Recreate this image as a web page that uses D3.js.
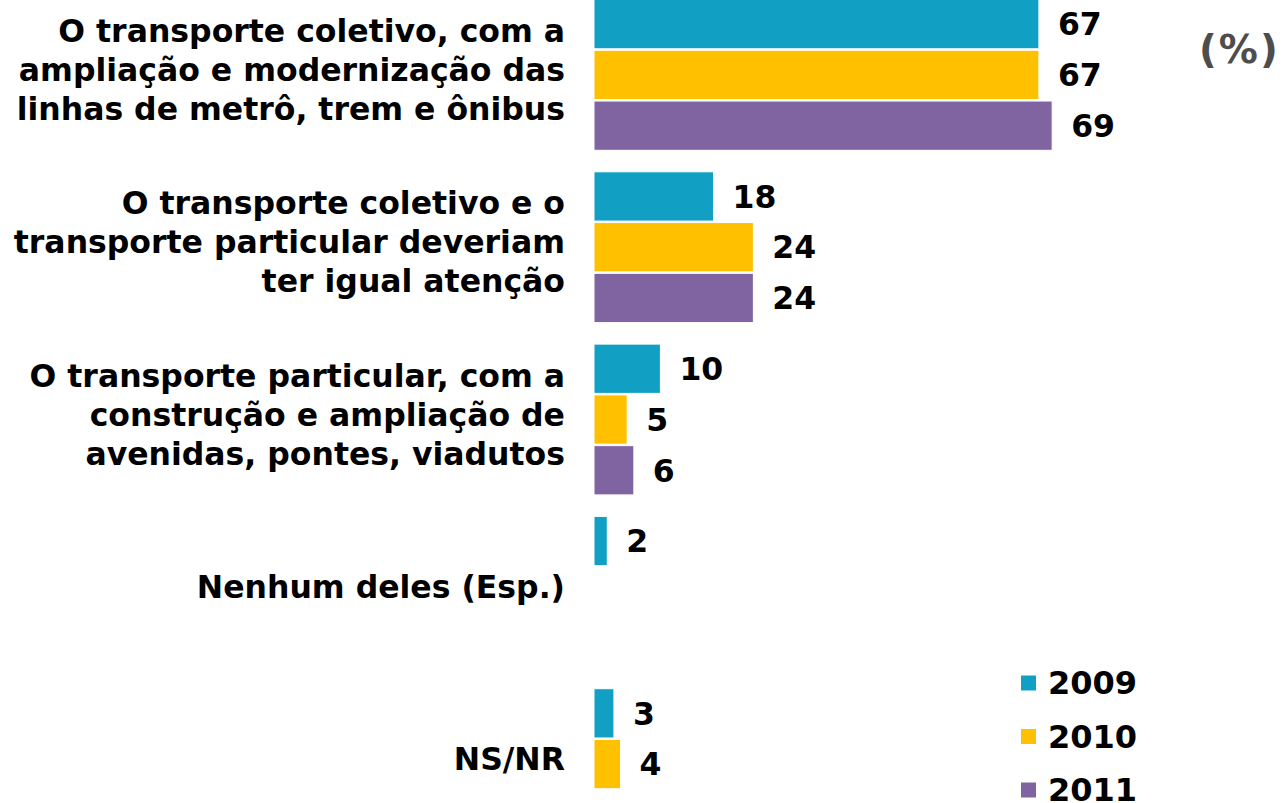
<!DOCTYPE html>
<html>
<head>
<meta charset="utf-8">
<script src="https://cdn.jsdelivr.net/npm/d3@7"></script>
<style>
  html, body { margin: 0; padding: 0; background: #ffffff; }
  svg { display: block; }
  text { font-family: "DejaVu Sans", Verdana, sans-serif; font-weight: bold; }
</style>
</head>
<body>
<svg id="chart" width="1288" height="803"></svg>
<script>
// Answer categories (line breaks as drawn)
const categories = [
  "O transporte coletivo, com a|ampliação e modernização das|linhas de metrô, trem e ônibus",
  "O transporte coletivo e o|transporte particular deveriam|ter igual atenção",
  "O transporte particular, com a|construção e ampliação de|avenidas, pontes, viadutos",
  "Nenhum deles (Esp.)",
  "NS/NR"
];
const years = ["2009", "2010", "2011"];
const values2009 = [67, 18, 10, 2, 3];
const values2010 = [67, 24, 5, null, 4];
const values2011 = [69, 24, 6, null, null];
const colors = ["#11A0C3", "#FFC000", "#8064A2"];

const seriesByYear = [values2009, values2010, values2011];
const rows = [];
categories.forEach((c, i) => {
  years.forEach((y, j) => {
    const v = seriesByYear[j][i];
    if (v != null) rows.push({ cat: c, year: y, value: v });
  });
});

const svg = d3.select("#chart");

const x = d3.scaleLinear().domain([0, 100]).range([594, 1258]);

// Group bands: 172.3 px step with a 20 px gap between groups
const groupStep = 172.3, groupGap = 20;
const n = categories.length;
const y0 = d3.scaleBand()
  .domain(categories)
  .range([-1, -1 + groupStep * n - groupGap])
  .paddingInner(groupGap / groupStep)
  .paddingOuter(0)
  .align(0);

const y1 = d3.scaleBand()
  .domain(years)
  .range([0, y0.bandwidth()])
  .padding(0);

const color = d3.scaleOrdinal().domain(years).range(colors);

// Bars
svg.append("g")
  .selectAll("rect")
  .data(rows)
  .join("rect")
  .attr("x", x(0))
  .attr("y", d => y0(d.cat) + y1(d.year) + 0.5)
  .attr("width", d => x(d.value) - x(0))
  .attr("height", y1.bandwidth() - 1.5)
  .attr("fill", d => color(d.year))
  .attr("stroke", "#ffffff")
  .attr("stroke-width", 1);

// Value labels
svg.append("g")
  .selectAll("text")
  .data(rows)
  .join("text")
  .attr("x", d => x(d.value) + 19)
  .attr("y", d => y0(d.cat) + y1(d.year) + y1.bandwidth() / 2)
  .attr("dominant-baseline", "central")
  .attr("font-size", 31.5)
  .attr("fill", "#000")
  .text(d => d.value);

// Category labels
const lineH = 39;
const catLabels = svg.append("g")
  .selectAll("text")
  .data(categories)
  .join("text")
  .attr("text-anchor", "end")
  .attr("font-size", 31.5)
  .attr("fill", "#000")
  .attr("dominant-baseline", "central");

catLabels.each(function (c) {
  const lines = c.split("|");
  const cy = y0(c) + y0.bandwidth() / 2 - 5;
  const start = cy - (lines.length - 1) * lineH / 2;
  d3.select(this).selectAll("tspan")
    .data(lines)
    .join("tspan")
    .attr("x", 565)
    .attr("y", (d, i) => start + i * lineH)
    .text(d => d);
});

// Unit note
svg.append("text")
  .attr("x", 1199)
  .attr("y", 49)
  .attr("dominant-baseline", "central")
  .attr("font-size", 39)
  .attr("letter-spacing", 2)
  .attr("fill", "#4d4d4d")
  .text("(%)");

// Legend
const legend = svg.append("g")
  .selectAll("g")
  .data(years)
  .join("g")
  .attr("transform", (d, i) => `translate(1021, ${683 + i * 53.5})`);

legend.append("rect")
  .attr("x", 0)
  .attr("y", -7.5)
  .attr("width", 15)
  .attr("height", 15)
  .attr("fill", d => color(d));

legend.append("text")
  .attr("x", 27)
  .attr("y", 0)
  .attr("dominant-baseline", "central")
  .attr("font-size", 32)
  .attr("fill", "#000")
  .text(d => d);
</script>
</body>
</html>
